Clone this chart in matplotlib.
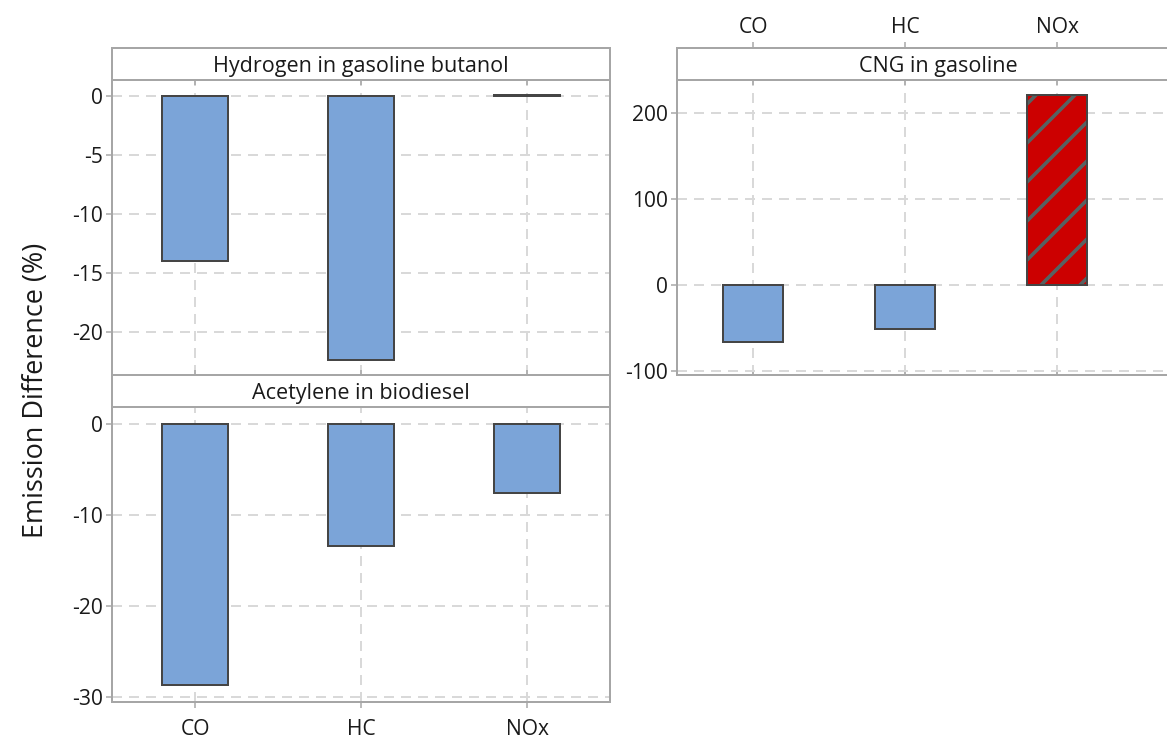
import numpy as np
import matplotlib.pyplot as plt

# figure drawn at a high dpi so the hatch spacing matches the reference
DPI = 234
W, H = 1167, 738


def px(n):
    # pixel size -> points
    return n * 72 / DPI


def box(l, t, r, b):
    return [l / W, 1 - b / H, (r - l) / W, (b - t) / H]


emissions = ['CO', 'HC', 'NOx']
hydrogen = [-14.0, -22.4, 0.1]      # Hydrogen in gasoline butanol
acetylene = [-28.7, -13.4, -7.6]    # Acetylene in biodiesel
cng = [-66.5, -51.3, 221.7]         # CNG in gasoline

BLUE = '#7ba4d8'
RED = '#cc0000'
EDGE = '#454545'
FRAME = '#a6a6a6'
GRID = '#d9d9d9'
TXT = '#1a1a1a'
TICK_FS = px(21)

plt.rcParams['font.family'] = ['Open Sans', 'DejaVu Sans']
plt.rcParams['hatch.linewidth'] = px(3.6)
plt.rcParams['axes.unicode_minus'] = False

fig = plt.figure(figsize=(W / DPI, H / DPI), dpi=DPI)
x = np.arange(len(emissions))


def panel(plot_box, head_box, title, values, ylim, yticks, xlim):
    ax = fig.add_axes(plot_box)
    ax.bar(x, values, 0.4, color=BLUE, edgecolor=EDGE, linewidth=px(2))
    ax.set_xlim(xlim)
    ax.set_ylim(ylim)
    ax.set_yticks(yticks)
    ax.set_xticks(x)
    ax.set_xticklabels([])
    ax.grid(True, ls=(0, (5, 3.5)), color=GRID, lw=px(2))
    ax.set_axisbelow(True)
    for s in ax.spines.values():
        s.set_color(FRAME)
        s.set_linewidth(px(2))
    ax.tick_params(axis='y', length=px(6), width=px(1.5), color=FRAME,
                   pad=px(3), labelsize=TICK_FS, labelcolor=TXT)
    ax.tick_params(axis='x', direction='in', top=True, length=px(5),
                   width=px(1.5), color=FRAME, labelsize=TICK_FS, labelcolor=TXT)

    hd = fig.add_axes(head_box)
    hd.set_xlim(xlim)
    hd.set_yticks([])
    hd.set_xticks([])
    for s in hd.spines.values():
        s.set_color(FRAME)
        s.set_linewidth(px(2))
    hd.text(0.5, 0.42, title, transform=hd.transAxes, ha='center',
            va='center', fontsize=px(21.5), color=TXT)
    return ax, hd


ax1, hd1 = panel(box(112, 80, 610, 375), box(112, 48, 610, 80),
                 'Hydrogen in gasoline butanol', hydrogen,
                 (-23.64, 1.36), [0, -5, -10, -15, -20], (-0.5, 2.5))

ax2, hd2 = panel(box(112, 407, 610, 702), box(112, 375, 610, 407),
                 'Acetylene in biodiesel', acetylene,
                 (-30.55, 1.87), [0, -10, -20, -30], (-0.5, 2.5))
ax2.tick_params(axis='x', direction='out', top=False, length=px(6), pad=px(11))
ax2.set_xticklabels(emissions)

# right panel runs off the edge of the picture
ax3, hd3 = panel(box(677, 80, 1200, 375), box(677, 48, 1200, 80),
                 'CNG in gasoline', cng,
                 (-105, 239), [200, 100, 0, -100], (-0.5, 2.94))
ax3.patches[2].set_visible(False)
ax3.bar(x[2], cng[2], 0.4, color=RED, edgecolor='#566262', linewidth=0, hatch='//')
ax3.bar(x[2], cng[2], 0.4, fill=False, edgecolor=EDGE, linewidth=px(2))
hd3.xaxis.tick_top()
hd3.set_xticks(x)
hd3.set_xticklabels(emissions)
hd3.tick_params(axis='x', length=px(6), width=px(1.5), color=FRAME,
                pad=px(4), labelsize=TICK_FS, labelcolor=TXT)

fig.text(36 / W, 1 - 390 / H, 'Emission Difference (%)', rotation=90,
         ha='center', va='center', fontsize=px(27), color=TXT)

fig.savefig('out.png', dpi=DPI)
